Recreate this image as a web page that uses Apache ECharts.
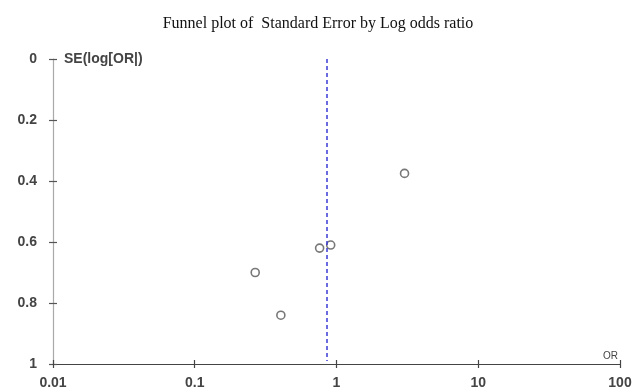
<!DOCTYPE html>
<html><head><meta charset="utf-8">
<script src="https://cdn.jsdelivr.net/npm/echarts@6/dist/echarts.min.js"></script>
<style>html,body{margin:0;padding:0;background:#fff}#c{width:635px;height:392px}</style>
</head><body><div id="c"></div>
<script>
const titleText = 'Funnel plot of  Standard Error by Log odds ratio';
const oddsRatios = [3.02, 0.76, 0.91, 0.267, 0.405];
const standardErrors = [0.375, 0.62, 0.61, 0.70, 0.84];
const pooledOR = 0.85;
const xTicks = [0.01, 0.1, 1, 10, 100];
const yTicks = [0, 0.2, 0.4, 0.6, 0.8, 1];

const points = oddsRatios.map((v, i) => [v, standardErrors[i]]);
const labelFont = {color: '#444', fontSize: 14, fontWeight: 'bold', fontFamily: 'Liberation Sans, Arial, sans-serif'};

function xAxisCfg(main) {
  return {
    gridIndex: main ? 0 : 1,
    type: 'log', logBase: 10, min: 0.01, max: 100, position: 'bottom',
    name: main ? 'OR' : '', nameLocation: 'end', nameGap: -2,
    nameTextStyle: {align: 'right', verticalAlign: 'bottom', fontSize: 10, color: '#444', padding: [0, 0, 3, 0], fontFamily: 'Liberation Sans, Arial, sans-serif'},
    axisLine: {show: main, onZero: false, lineStyle: {color: '#444', width: 1.2}},
    axisTick: {show: true, inside: !main, length: 4, lineStyle: {color: '#444', width: 1.2}},
    axisLabel: Object.assign({show: main, margin: 12, formatter: v => (xTicks.includes(v) ? String(v) : '')}, labelFont),
    splitLine: {show: false}, minorTick: {show: false}
  };
}
function yAxisCfg(main) {
  return {
    gridIndex: main ? 0 : 1,
    type: 'value', inverse: true, min: 0, max: 1, interval: 0.2, position: 'left',
    name: main ? 'SE(log[OR|)' : '', nameLocation: 'start', nameGap: 0,
    nameTextStyle: {align: 'left', verticalAlign: 'middle', fontSize: 14, fontWeight: 'bold', color: '#444', padding: [0, 0, 4, 11], fontFamily: 'Liberation Sans, Arial, sans-serif'},
    axisLine: {show: main, onZero: false, lineStyle: {color: '#aaa', width: 1.2}},
    axisTick: {show: true, inside: !main, length: 4, lineStyle: {color: '#555', width: 1.2}},
    axisLabel: Object.assign({show: main, margin: 16, formatter: v => (yTicks.includes(v) ? String(v) : '')}, labelFont),
    splitLine: {show: false}
  };
}

const gridRect = {left: 53, right: 15, top: 59, bottom: 28, containLabel: false};
const chart = echarts.init(document.getElementById('c'), null, {renderer: 'canvas'});
chart.setOption({
  animation: false,
  backgroundColor: '#fff',
  title: {
    text: titleText, left: 313, top: 11, textAlign: 'center',
    textStyle: {fontFamily: 'Liberation Serif, Times New Roman, serif', fontSize: 16, fontWeight: 'normal', color: '#111'}
  },
  grid: [Object.assign({}, gridRect), Object.assign({}, gridRect)],
  xAxis: [xAxisCfg(true), xAxisCfg(false)],
  yAxis: [yAxisCfg(true), yAxisCfg(false)],
  series: [{
    type: 'scatter', xAxisIndex: 0, yAxisIndex: 0,
    data: points, symbol: 'circle', symbolSize: 8,
    itemStyle: {color: '#fff', borderColor: '#555', borderWidth: 1.6},
    markLine: {
      silent: true, symbol: 'none', label: {show: false},
      lineStyle: {type: [4, 3], color: '#3b3bd6', width: 1.5},
      data: [[{coord: [pooledOR, 0]}, {coord: [pooledOR, 0.99]}]]
    }
  }]
});
</script></body></html>
